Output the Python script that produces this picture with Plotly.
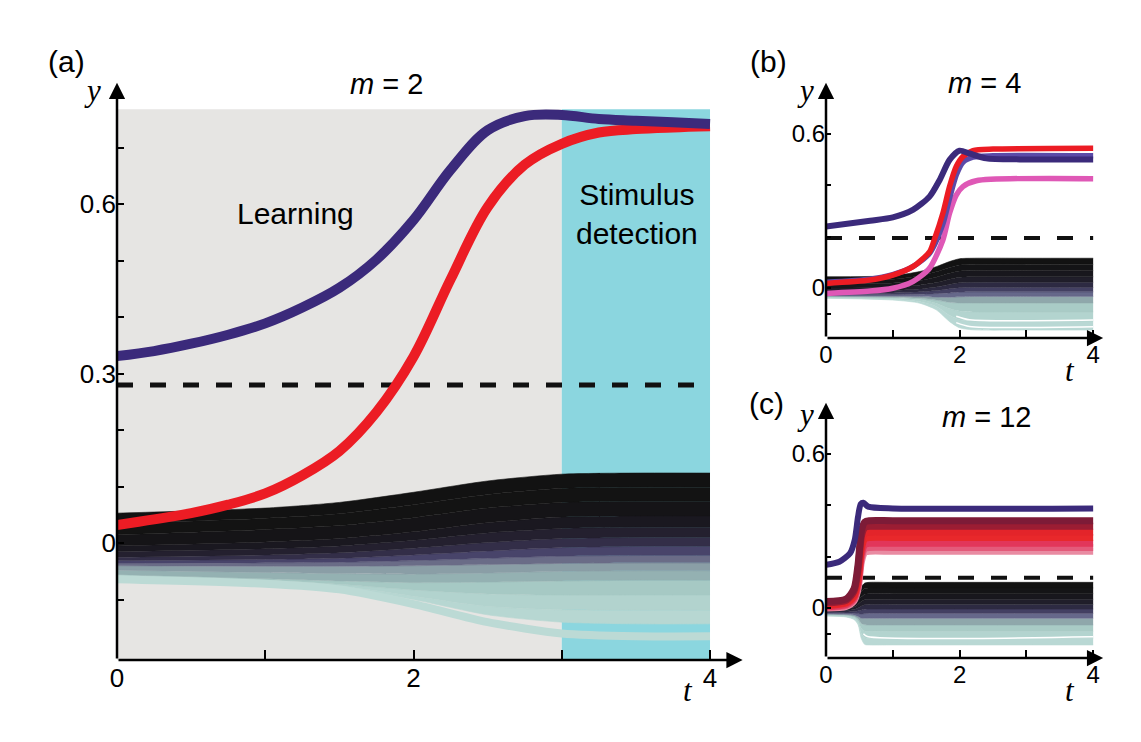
import plotly.graph_objects as go

# ---------------- panel (a): m = 2 ----------------
t_a = [0, 0.25, 0.5, 0.75, 1, 1.25, 1.5, 1.75, 2, 2.25, 2.5, 2.75, 3, 3.25, 3.5, 3.75, 4]
purple_a = [0.331, 0.340, 0.353, 0.369, 0.389, 0.417, 0.452, 0.502, 0.572, 0.661, 0.731, 0.756,
            0.758, 0.751, 0.748, 0.745, 0.742]
red_a = [0.032, 0.042, 0.053, 0.068, 0.088, 0.120, 0.163, 0.232, 0.330, 0.467, 0.595, 0.670,
         0.707, 0.727, 0.733, 0.736, 0.738]
threshold_a = 0.28
learning_span = [0, 3]
detection_span = [3, 4]

t_bundle_a = [0, 1, 1.5, 2, 2.5, 3, 3.5, 4]
bundle_a = [
    [0.053, 0.062, 0.072, 0.090, 0.110, 0.122, 0.124, 0.124],
    [0.035, 0.044, 0.052, 0.068, 0.086, 0.097, 0.099, 0.099],
    [0.015, 0.024, 0.031, 0.045, 0.062, 0.072, 0.074, 0.074],
    [-0.005, 0.002, 0.008, 0.020, 0.036, 0.046, 0.048, 0.048],
    [-0.015, -0.010, -0.005, 0.005, 0.018, 0.026, 0.028, 0.028],
    [-0.025, -0.021, -0.017, -0.009, 0.001, 0.008, 0.010, 0.010],
    [-0.031, -0.029, -0.027, -0.021, -0.014, -0.008, -0.006, -0.006],
    [-0.036, -0.035, -0.034, -0.031, -0.027, -0.023, -0.022, -0.022],
    [-0.040, -0.041, -0.041, -0.040, -0.038, -0.036, -0.035, -0.035],
    [-0.048, -0.052, -0.054, -0.055, -0.053, -0.050, -0.049, -0.049],
    [-0.056, -0.063, -0.067, -0.070, -0.069, -0.067, -0.066, -0.066],
    [-0.058, -0.066, -0.073, -0.083, -0.090, -0.092, -0.092, -0.092],
    [-0.060, -0.068, -0.076, -0.094, -0.112, -0.118, -0.119, -0.119],
    [-0.061, -0.070, -0.079, -0.100, -0.127, -0.140, -0.143, -0.143],
]
lowest_a = [-0.064, -0.072, -0.082, -0.108, -0.140, -0.160, -0.165, -0.165]

# ---------------- panel (b): m = 4 ----------------
t_purple_b = [0, 0.66, 1.0, 1.3, 1.55, 1.7, 1.85, 2.0, 2.15, 2.4, 2.9, 4]
purple_b = [0.239, 0.262, 0.275, 0.304, 0.356, 0.420, 0.499, 0.535, 0.524, 0.505, 0.501, 0.501]
t_red_b = [0, 0.66, 1.0, 1.3, 1.55, 1.62, 1.75, 1.85, 1.95, 2.05, 2.2, 2.5, 4]
red_b = [0.018, 0.031, 0.050, 0.083, 0.141, 0.187, 0.291, 0.395, 0.473, 0.512, 0.535, 0.541, 0.544]
t_violet_b = [0, 0.66, 1.0, 1.3, 1.55, 1.75, 1.85, 1.95, 2.05, 2.2, 2.5, 4]
violet_b = [0.022, 0.034, 0.052, 0.083, 0.135, 0.250, 0.350, 0.440, 0.490, 0.510, 0.515, 0.515]
t_pink_b = [0, 0.66, 1.0, 1.3, 1.55, 1.75, 1.85, 1.95, 2.05, 2.25, 4]
pink_b = [-0.021, -0.012, -0.001, 0.025, 0.077, 0.187, 0.291, 0.362, 0.395, 0.418, 0.426]
threshold_b = 0.195

t_bundle_b = [0, 1, 1.4, 1.65, 1.85, 2, 2.2, 3, 4]
bundle_b = [
    [0.044, 0.048, 0.064, 0.083, 0.103, 0.114, 0.116, 0.116, 0.116],
    [0.030, 0.034, 0.047, 0.063, 0.080, 0.090, 0.092, 0.092, 0.092],
    [0.015, 0.019, 0.029, 0.042, 0.057, 0.066, 0.068, 0.068, 0.068],
    [0.000, 0.003, 0.011, 0.021, 0.034, 0.042, 0.044, 0.044, 0.044],
    [-0.012, -0.010, -0.004, 0.004, 0.014, 0.020, 0.022, 0.022, 0.022],
    [-0.020, -0.019, -0.015, -0.010, -0.003, 0.001, 0.002, 0.002, 0.002],
    [-0.026, -0.026, -0.024, -0.022, -0.019, -0.016, -0.015, -0.015, -0.015],
    [-0.031, -0.032, -0.033, -0.035, -0.036, -0.034, -0.033, -0.033, -0.033],
    [-0.034, -0.037, -0.040, -0.047, -0.056, -0.058, -0.058, -0.058, -0.058],
    [-0.036, -0.040, -0.046, -0.059, -0.080, -0.090, -0.093, -0.093, -0.093],
    [-0.038, -0.044, -0.053, -0.072, -0.106, -0.124, -0.129, -0.129, -0.129],
    [-0.040, -0.047, -0.059, -0.085, -0.131, -0.155, -0.163, -0.164, -0.164],
]
t_gap_b = [1.95, 2.15, 4]
gap1_b = [-0.110, -0.124, -0.125]
gap2_b = [-0.135, -0.150, -0.151]

# ---------------- panel (c): m = 12 ----------------
t_purple_c = [0, 0.2, 0.36, 0.43, 0.48, 0.52, 0.56, 0.63, 1, 4]
purple_c = [0.168, 0.180, 0.213, 0.265, 0.356, 0.405, 0.410, 0.395, 0.388, 0.388]
t_red_c = [0, 0.3, 0.42, 0.48, 0.53, 0.58, 0.65, 1, 4]
red_c = [
    [0.025, 0.035, 0.075, 0.170, 0.300, 0.335, 0.340, 0.340, 0.340],
    [0.020, 0.030, 0.065, 0.150, 0.280, 0.313, 0.318, 0.318, 0.318],
    [0.014, 0.024, 0.055, 0.130, 0.255, 0.290, 0.295, 0.295, 0.295],
    [0.010, 0.019, 0.046, 0.110, 0.230, 0.270, 0.275, 0.275, 0.275],
    [0.006, 0.014, 0.040, 0.095, 0.210, 0.247, 0.252, 0.252, 0.252],
    [0.003, 0.010, 0.034, 0.085, 0.195, 0.231, 0.236, 0.236, 0.236],
    [0.000, 0.006, 0.028, 0.075, 0.180, 0.216, 0.221, 0.221, 0.221],
]
threshold_c = 0.118

t_bundle_c = [0, 0.3, 0.42, 0.48, 0.53, 0.58, 0.65, 1, 4]
bundle_c = [
    [0.025, 0.028, 0.040, 0.060, 0.083, 0.097, 0.100, 0.100, 0.100],
    [0.015, 0.018, 0.028, 0.045, 0.064, 0.076, 0.078, 0.078, 0.078],
    [0.005, 0.008, 0.016, 0.030, 0.044, 0.054, 0.056, 0.056, 0.056],
    [-0.004, -0.002, 0.004, 0.015, 0.025, 0.032, 0.034, 0.034, 0.034],
    [-0.011, -0.010, -0.006, 0.001, 0.008, 0.013, 0.014, 0.014, 0.014],
    [-0.016, -0.016, -0.014, -0.011, -0.008, -0.005, -0.004, -0.004, -0.004],
    [-0.020, -0.021, -0.021, -0.022, -0.023, -0.022, -0.021, -0.021, -0.021],
    [-0.024, -0.025, -0.027, -0.033, -0.040, -0.040, -0.040, -0.040, -0.040],
    [-0.026, -0.028, -0.032, -0.042, -0.060, -0.065, -0.066, -0.066, -0.066],
    [-0.028, -0.031, -0.037, -0.051, -0.080, -0.090, -0.091, -0.091, -0.091],
    [-0.030, -0.033, -0.041, -0.058, -0.100, -0.116, -0.118, -0.118, -0.118],
    [-0.031, -0.035, -0.045, -0.065, -0.120, -0.142, -0.144, -0.144, -0.144],
]
t_gap_c = [0.56, 0.62, 4]
gap_c = [-0.100, -0.111, -0.112]

# ticks
t_ticks = [0, 1, 2, 3, 4]
t_ticktext = ["0", "", "2", "", "4"]
y_ticks_a = [-0.1, 0, 0.1, 0.2, 0.3, 0.4, 0.5, 0.6, 0.7]
y_ticktext_a = ["", "0", "", "", "0.3", "", "", "0.6", ""]
y_ticks_bc = [-0.1, 0, 0.2, 0.4, 0.6]
y_ticktext_bc = ["", "0", "", "", "0.6"]

# ---------------- styling ----------------
PURPLE = "#3b2a7b"
RED = "#ec1c24"
PINK = "#df58b6"
VIOLET = "#5b4aa8"
GRAY_BG = "#e6e5e3"
CYAN_BG = "#8bd6df"
SANS = "Liberation Sans, Arial, sans-serif"
SERIF = "Liberation Serif, Times New Roman, serif"

band_a = ["#121212", "#131313", "#151417", "#1a1820", "#24202f", "#332e48",
          "#48446a", "#6a6c87", "#8a9ea6", "#94b1b2", "#a6c9c4", "#b2d3ce", "#b7d7d2"]
band_bc = ["#121212", "#141416", "#18171d", "#201e2a", "#2d2a42", "#434062",
           "#66688a", "#8fa7ab", "#a9cbc6", "#b3d4cf", "#b9d8d4"]
red_colors_c = ["#e98ba2", "#e45a7a", "#e2365a", "#e8282b", "#e3242a", "#9b1d33", "#7d1b37"]

# the page puts the figure 8px in from the top-left corner
OFF = 8
W, H = 1141 - 2 * OFF, 742 - 2 * OFF
fig = go.Figure()


def add_bundle(t, edges, colors, xa, ya):
    for i, edge in enumerate(edges):
        c = colors[max(i - 1, 0)]
        fig.add_trace(go.Scatter(
            x=t, y=edge, mode="lines", xaxis=xa, yaxis=ya,
            line=dict(shape="spline", smoothing=0.7, width=0.6, color=c),
            fill="tonexty" if i > 0 else "none", fillcolor=c,
            hoverinfo="skip", showlegend=False,
        ))


def add_line(t, y, color, width, xa, ya, dash=None, smoothing=0.7):
    fig.add_trace(go.Scatter(
        x=t, y=y, mode="lines", xaxis=xa, yaxis=ya,
        line=dict(shape="spline", smoothing=smoothing, width=width, color=color, dash=dash),
        hoverinfo="skip", showlegend=False,
    ))


# panel (a)
add_bundle(t_bundle_a, bundle_a, band_a, "x", "y")
add_line(t_bundle_a, lowest_a, "#bcdad5", 8, "x", "y")
add_line([0, 4], [threshold_a, threshold_a], "#111111", 5, "x", "y", dash="16px,17px")
add_line(t_a, red_a, RED, 10, "x", "y", smoothing=1.0)
add_line(t_a, purple_a, PURPLE, 10, "x", "y", smoothing=1.0)

# panel (b)
add_bundle(t_bundle_b, bundle_b, band_bc, "x2", "y2")
add_line(t_gap_b, gap1_b, "white", 1.5, "x2", "y2")
add_line(t_gap_b, gap2_b, "white", 1.5, "x2", "y2")
add_line([0, 4], [threshold_b, threshold_b], "#111111", 4, "x2", "y2", dash="16px,17px")
add_line(t_pink_b, pink_b, PINK, 5.5, "x2", "y2")
add_line(t_violet_b, violet_b, VIOLET, 5.5, "x2", "y2")
add_line(t_red_b, red_b, RED, 5.5, "x2", "y2")
add_line(t_purple_b, purple_b, PURPLE, 6, "x2", "y2")

# panel (c)
add_bundle(t_bundle_c, bundle_c, band_bc, "x3", "y3")
add_line(t_gap_c, gap_c, "white", 1.5, "x3", "y3")
add_line([0, 4], [threshold_c, threshold_c], "#111111", 4, "x3", "y3", dash="16px,17px")
for vals, col in zip(red_c[::-1], red_colors_c):
    add_line(t_red_c, vals, col, 7, "x3", "y3")
add_line(t_purple_c, purple_c, PURPLE, 6, "x3", "y3")


def px_x(p):
    return (p - OFF) / W


def px_y(p):
    return 1 - (p - OFF) / H


y_min_a, y_max_a = -0.207, 0.82
y_min_bc, y_max_bc = -0.195, 0.82
bg_top_a = 0.768

# background regions of panel (a)
fig.add_shape(type="rect", xref="x", yref="y", x0=learning_span[0], x1=learning_span[1],
              y0=y_min_a, y1=bg_top_a, fillcolor=GRAY_BG, line_width=0, layer="below")
fig.add_shape(type="rect", xref="x", yref="y", x0=detection_span[0], x1=detection_span[1],
              y0=y_min_a, y1=bg_top_a, fillcolor=CYAN_BG, line_width=0, layer="below")


def axis_common(tickvals, ticktext, ticklen, size):
    return dict(showline=False, showgrid=False, zeroline=False, ticks="inside",
                tickvals=tickvals, ticktext=ticktext, ticklen=ticklen, tickwidth=1.5,
                tickcolor="black", tickfont=dict(family=SANS, size=size, color="black"),
                fixedrange=True)


fig.update_layout(
    width=W, height=H, margin=dict(l=0, r=0, t=0, b=0, autoexpand=False),
    font=dict(family=SANS, size=22, color="black"),
    paper_bgcolor="white", plot_bgcolor="rgba(0,0,0,0)", showlegend=False,
    xaxis=dict(domain=[px_x(117), px_x(754.5)], range=[0, 4.3], anchor="y",
               **axis_common(t_ticks, t_ticktext, 10, 26)),
    yaxis=dict(domain=[px_y(660), px_y(80)], range=[y_min_a, y_max_a], anchor="x",
               **axis_common(y_ticks_a, y_ticktext_a, 7, 26)),
    xaxis2=dict(domain=[px_x(826), px_x(1113.2)], range=[0, 4.3], anchor="y2",
                **axis_common(t_ticks, t_ticktext, 8, 24)),
    yaxis2=dict(domain=[px_y(338.06), px_y(77.5)], range=[y_min_bc, y_max_bc], anchor="x2",
                **axis_common(y_ticks_bc, y_ticktext_bc, 5, 24)),
    xaxis3=dict(domain=[px_x(826), px_x(1113.2)], range=[0, 4.3], anchor="y3",
                **axis_common(t_ticks, t_ticktext, 8, 24)),
    yaxis3=dict(domain=[px_y(658.06), px_y(397.5)], range=[y_min_bc, y_max_bc], anchor="x3",
                **axis_common(y_ticks_bc, y_ticktext_bc, 5, 24)),
)

# axes drawn as arrows
arrows = [
    ("x", "y", 4.22, y_min_a, 0, 0.815),
    ("x2", "y2", 4.15, y_min_bc, 0, 0.80),
    ("x3", "y3", 4.15, y_min_bc, 0, 0.80),
]
for xr, yr, xtip, ybase, xbase, ytip in arrows:
    for (x, y) in [(xtip, ybase), (xbase, ytip)]:
        fig.add_annotation(x=x, y=y, ax=xbase, ay=ybase, xref=xr, yref=yr, axref=xr, ayref=yr,
                           text="", showarrow=True, arrowhead=2, arrowsize=1.3,
                           arrowwidth=2.5, arrowcolor="black", standoff=0, startstandoff=0)

labels = [
    ("(a)", 66, 61, SANS, 30, False),
    ("(b)", 768, 61, SANS, 30, False),
    ("(c)", 766, 403, SANS, 30, False),
    ("<i>m</i> = 2", 386, 84, SANS, 29, False),
    ("<i>m</i> = 4", 984, 83, SANS, 29, False),
    ("<i>m</i> = 12", 986, 417, SANS, 29, False),
    ("y", 92, 90, SERIF, 31, True),
    ("y", 805, 90, SERIF, 31, True),
    ("y", 805, 414, SERIF, 31, True),
    ("t", 688, 690, SERIF, 31, True),
    ("t", 1070, 370, SERIF, 31, True),
    ("t", 1070, 690, SERIF, 31, True),
    ("Learning", 295, 213, SANS, 30, False),
    ("Stimulus<br>detection", 637, 214, SANS, 30, False),
]
for text, x, y, family, size, italic in labels:
    fig.add_annotation(x=px_x(x), y=px_y(y), xref="paper", yref="paper", text=text,
                       showarrow=False, xanchor="center", yanchor="middle",
                       font=dict(family=family, size=size, color="black",
                                 style="italic" if italic else "normal"))

fig.write_html("out.html")
